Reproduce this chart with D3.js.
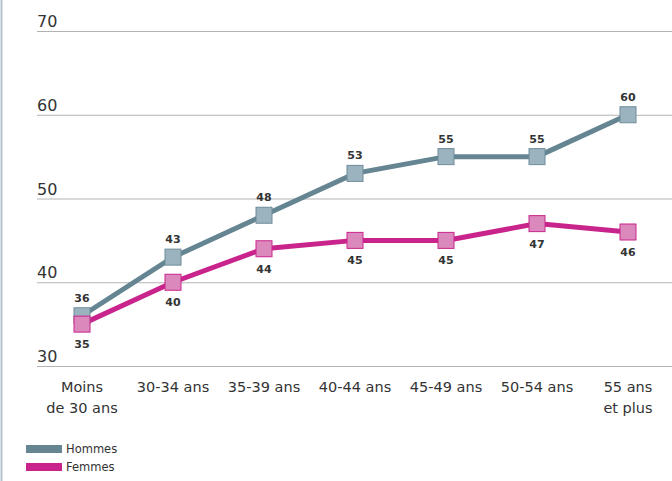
<!DOCTYPE html>
<html lang="fr">
<head>
<meta charset="UTF-8">
<title>Hommes / Femmes</title>
<script src="https://cdn.jsdelivr.net/npm/d3@7"></script>
<style>
    body{ margin:0; background:#fff; font-family:"DejaVu Sans", sans-serif; }
</style>
</head>
<body>
<svg id="main" width="672" height="481"></svg>
<script>

    const categories = [["Moins", "de 30 ans"], ["30-34 ans"], ["35-39 ans"], ["40-44 ans"], ["45-49 ans"], ["50-54 ans"], ["55 ans", "et plus"]];
    const hommes = [36, 43, 48, 53, 55, 55, 60];
    const femmes = [35, 40, 44, 45, 45, 47, 46];
    const yTicks = [30, 40, 50, 60, 70];

    const svg = d3.select("svg#main");

    // left border line
    svg.append("line")
        .attr("x1", 1.5).attr("x2", 1.5).attr("y1", 0).attr("y2", 481)
        .attr("stroke", "#b4c4cf").attr("stroke-width", 2);

    const x = d3.scalePoint()
        .domain(d3.range(categories.length))
        .range([82, 628]);

    const y = d3.scaleLinear()
        .domain([30, 70])
        .range([366, 31]);

    // gridlines + tick labels
    const grid = svg.append("g");
    grid.selectAll("line")
        .data(yTicks)
        .enter()
        .append("line")
        .attr("x1", 37).attr("x2", 672)
        .attr("y1", d => y(d) + 0.5).attr("y2", d => y(d) + 0.5)
        .attr("stroke", "#b3b3b3").attr("stroke-width", 1);
    grid.selectAll("text")
        .data(yTicks)
        .enter()
        .append("text")
        .attr("x", 37)
        .attr("y", d => y(d) - 4)
        .attr("font-size", 16)
        .attr("fill", "#333")
        .text(d => d);

    // category labels
    const cat = svg.append("g");
    categories.forEach((c, i) => {
        const t = cat.append("text")
            .attr("x", x(i))
            .attr("y", 392)
            .attr("text-anchor", "middle")
            .attr("font-size", 14.5)
            .attr("fill", "#333");
        c.forEach((line, j) => {
            t.append("tspan").attr("x", x(i)).attr("dy", j === 0 ? 0 : 21).text(line);
        });
    });

    const line = d3.line()
        .x((d, i) => x(i))
        .y(d => y(d));

    const series = [
        {name: "Hommes", values: hommes, line: "#658593", fill: "#9bb3bf", stroke: "#6e8c9a", above: [1,1,1,1,1,1,1]},
        {name: "Femmes", values: femmes, line: "#c9248c", fill: "#db89bd", stroke: "#c9248c", above: [0,0,0,0,0,0,0]}
    ];

    // lines first so markers sit on top
    series.forEach(s => {
        svg.append("path")
            .attr("d", line(s.values))
            .attr("fill", "none")
            .attr("stroke", s.line)
            .attr("stroke-width", 5);
    });

    series.forEach(s => {
        const g = svg.append("g");
        g.selectAll("rect")
            .data(s.values)
            .enter()
            .append("rect")
            .attr("x", (d, i) => x(i) - 8)
            .attr("y", d => y(d) - 8)
            .attr("width", 16).attr("height", 16)
            .attr("fill", s.fill)
            .attr("stroke", s.stroke)
            .attr("stroke-width", 1);
        g.selectAll("text")
            .data(s.values)
            .enter()
            .append("text")
            .attr("x", (d, i) => x(i))
            .attr("y", (d, i) => s.above[i] ? y(d) - 14 : y(d) + 24)
            .attr("text-anchor", "middle")
            .attr("font-size", 11)
            .attr("font-weight", "bold")
            .attr("fill", "#333")
            .text(d => d);
    });

    // legend
    const legend = svg.append("g");
    series.forEach((s, i) => {
        legend.append("rect")
            .attr("x", 26).attr("y", 445 + i * 18)
            .attr("width", 36).attr("height", 8)
            .attr("fill", s.line);
        legend.append("text")
            .attr("x", 66).attr("y", 453 + i * 18)
            .attr("font-size", 11.5)
            .attr("fill", "#333")
            .text(s.name);
    });

</script>
</body>
</html>
